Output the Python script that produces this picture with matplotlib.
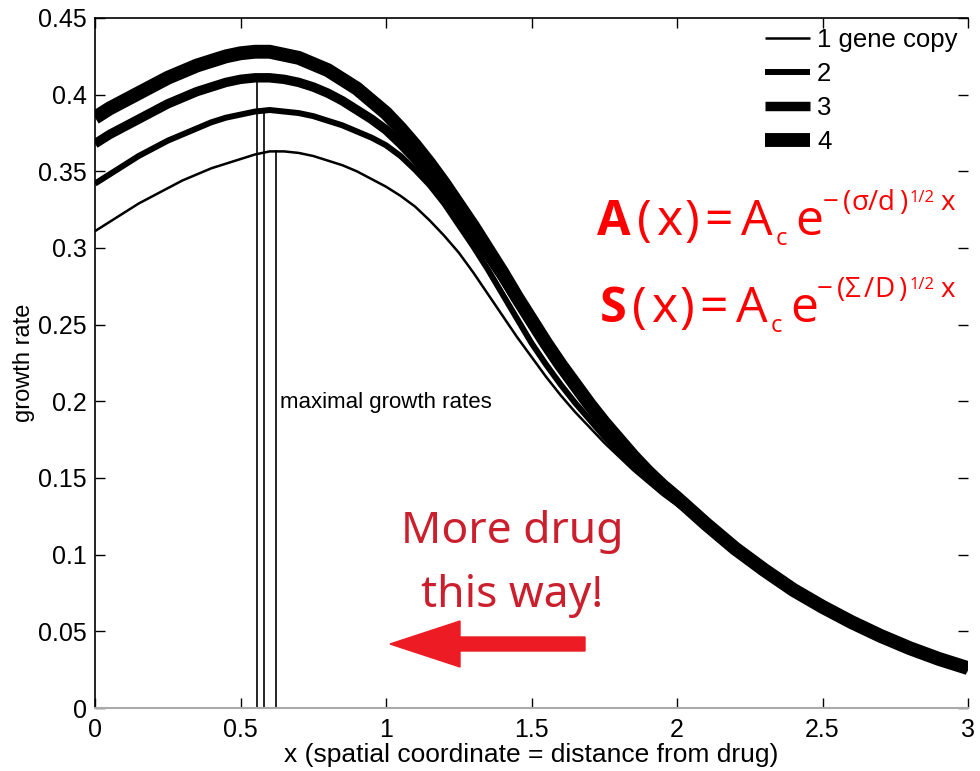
import matplotlib
matplotlib.use("Agg")
import matplotlib.pyplot as plt
from matplotlib.patches import FancyArrow
from matplotlib.transforms import IdentityTransform
from matplotlib.ticker import MultipleLocator, FormatStrFormatter

# distance from the drug source (finer steps where the curves bend)
x = [0.00, 0.05, 0.10, 0.15, 0.20, 0.25, 0.30, 0.35, 0.40, 0.45,
     0.50, 0.55, 0.60, 0.65, 0.70, 0.75, 0.80, 0.85, 0.90, 0.95,
     1.00, 1.05, 1.10, 1.15, 1.20, 1.25, 1.30, 1.35, 1.40, 1.45,
     1.50, 1.55, 1.60, 1.65, 1.70, 1.75, 1.80, 1.85, 1.90, 1.95,
     2.00, 2.10, 2.20, 2.30, 2.40, 2.50, 2.60, 2.70, 2.80, 2.90, 3.00]

# growth rate for 1..4 gene copies
rate_1 = [0.311, 0.317, 0.323, 0.329, 0.334, 0.339, 0.344, 0.348, 0.352, 0.355,
          0.358, 0.361, 0.363, 0.363, 0.362, 0.360, 0.357, 0.354, 0.350, 0.345,
          0.340, 0.334, 0.327, 0.318, 0.308, 0.297, 0.284, 0.270, 0.256, 0.242,
          0.229, 0.216, 0.204, 0.193, 0.183, 0.173, 0.164, 0.155, 0.147, 0.139,
          0.132, 0.118, 0.103, 0.089, 0.076, 0.065, 0.055, 0.046, 0.038, 0.031, 0.025]
rate_2 = [0.342, 0.348, 0.354, 0.360, 0.365, 0.370, 0.374, 0.378, 0.382, 0.385,
          0.387, 0.389, 0.390, 0.389, 0.388, 0.386, 0.383, 0.380, 0.376, 0.372,
          0.367, 0.360, 0.351, 0.341, 0.329, 0.315, 0.301, 0.286, 0.270, 0.254,
          0.238, 0.224, 0.211, 0.199, 0.188, 0.177, 0.167, 0.158, 0.149, 0.141,
          0.134, 0.119, 0.104, 0.089, 0.076, 0.065, 0.055, 0.046, 0.038, 0.031, 0.025]
rate_3 = [0.368, 0.374, 0.379, 0.384, 0.389, 0.394, 0.398, 0.402, 0.405, 0.408,
          0.410, 0.411, 0.411, 0.410, 0.408, 0.405, 0.401, 0.396, 0.390, 0.384,
          0.377, 0.368, 0.358, 0.347, 0.335, 0.322, 0.309, 0.295, 0.281, 0.266,
          0.251, 0.237, 0.223, 0.210, 0.197, 0.185, 0.174, 0.163, 0.153, 0.144,
          0.136, 0.119, 0.104, 0.090, 0.077, 0.066, 0.056, 0.047, 0.039, 0.032, 0.026]
rate_4 = [0.385, 0.391, 0.396, 0.401, 0.406, 0.411, 0.415, 0.419, 0.422, 0.425,
          0.427, 0.428, 0.428, 0.426, 0.424, 0.420, 0.416, 0.410, 0.404, 0.396,
          0.388, 0.378, 0.367, 0.355, 0.342, 0.328, 0.314, 0.299, 0.284, 0.268,
          0.253, 0.238, 0.224, 0.211, 0.198, 0.186, 0.175, 0.164, 0.154, 0.145,
          0.137, 0.120, 0.104, 0.090, 0.077, 0.066, 0.056, 0.047, 0.039, 0.032, 0.026]
labels = ["1 gene copy", "2", "3", "4"]

# position and height of the maxima (3, 2 and 1 copies)
peak_x = [0.556, 0.581, 0.621]
peak_y = [0.411, 0.391, 0.364]

plt.rcParams['font.family'] = ['Liberation Sans', 'DejaVu Sans']

W, H = 980, 771
fig = plt.figure(figsize=(W / 100, H / 100), dpi=100)
ax = fig.add_axes([95 / W, 1 - 708 / H, (968 - 95) / W, (708 - 18) / H])

widths = [1.8, 4.3, 6.8, 10.0]
for ys, lw, lab in zip([rate_1, rate_2, rate_3, rate_4], widths, labels):
    ax.plot(x, ys, color='black', lw=lw, label=lab,
            solid_capstyle='butt', solid_joinstyle='round')

ax.vlines(peak_x, 0, peak_y, color='black', lw=1.2)
ax.text(0.636, 0.199, "maximal growth rates", fontsize=16, va='center')

ax.set_xlim(0, 3)
ax.set_ylim(0, 0.45)
ax.xaxis.set_major_locator(MultipleLocator(0.5))
ax.yaxis.set_major_locator(MultipleLocator(0.05))
ax.xaxis.set_major_formatter(FormatStrFormatter('%g'))
ax.yaxis.set_major_formatter(FormatStrFormatter('%g'))
ax.tick_params(direction='in', length=7, width=1, labelsize=18, pad=6,
               top=True, right=True)
ax.tick_params(axis='x', pad=7)
ax.spines['right'].set_visible(False)
ax.spines['bottom'].set_color('#aaaaaa')
ax.spines['bottom'].set_linewidth(1.5)
for s in ['left', 'top']:
    ax.spines[s].set_linewidth(1.2)

ax.set_xlabel("x (spatial coordinate = distance from drug)", fontsize=19, labelpad=1)
ax.set_ylabel("growth rate", fontsize=17, labelpad=2)

ax.legend(loc='upper right', frameon=False, fontsize=18.5, handlelength=1.75,
          handletextpad=0.3, labelspacing=0.38, borderaxespad=0.1, borderpad=0.3)


def formula(pieces, base):
    # each piece: text, left edge (px), baseline shift (px), size, bold
    for txt, left, dy, size, bold in pieces:
        fig.text(left / W, 1 - (base + dy) / H, txt, color='#ff0000',
                 fontsize=size, family=['Open Sans', 'Noto Sans', 'DejaVu Sans'],
                 weight='bold' if bold else 'normal', va='baseline')


formula([("A", 597, 0, 35, True), ("(", 637, 0, 36, False),
         ("x", 656, 0, 36, False), (")", 684, 0, 36, False),
         ("=", 704, 0, 36, False), ("A", 741, 0, 36, False),
         ("c", 776, 10, 17, False), ("e", 795, 0, 36, False),
         ("\u2212", 823, -25, 20, False), ("(", 843, -25, 20, False),
         ("\u03c3", 851, -25, 20, False), ("/", 868, -25, 20, False),
         ("d", 877, -25, 20, False), (")", 899, -25, 20, False),
         ("1/2", 910, -33, 12, False), ("x", 940, -25, 20, False)], 235)

formula([("S", 600, 0, 35, True), ("(", 632, 0, 36, False),
         ("x", 651, 0, 36, False), (")", 679, 0, 36, False),
         ("=", 699, 0, 36, False), ("A", 736, 0, 36, False),
         ("c", 771, 10, 17, False), ("e", 790, 0, 36, False),
         ("\u2212", 817, -25, 20, False), ("(", 837, -25, 20, False),
         ("\u03a3", 845, -25, 20, False), ("/", 864, -25, 20, False),
         ("D", 874, -25, 20, False), (")", 898, -25, 20, False),
         ("1/2", 910, -33, 12, False), ("x", 940, -25, 20, False)], 322)

fig.text(512 / W, 1 - 543 / H, "More drug", color='#cc1f2d', fontsize=32,
         family='Noto Sans', ha='center', va='baseline')
fig.text(512 / W, 1 - 607 / H, "this way!", color='#cc1f2d', fontsize=32,
         family='Noto Sans', ha='center', va='baseline')

fig.add_artist(FancyArrow(585, H - 644, -195, 0, width=14, head_width=46,
                          head_length=70, length_includes_head=True,
                          color='#ed1c24', transform=IdentityTransform()))

fig.savefig("out.png", dpi=100)
